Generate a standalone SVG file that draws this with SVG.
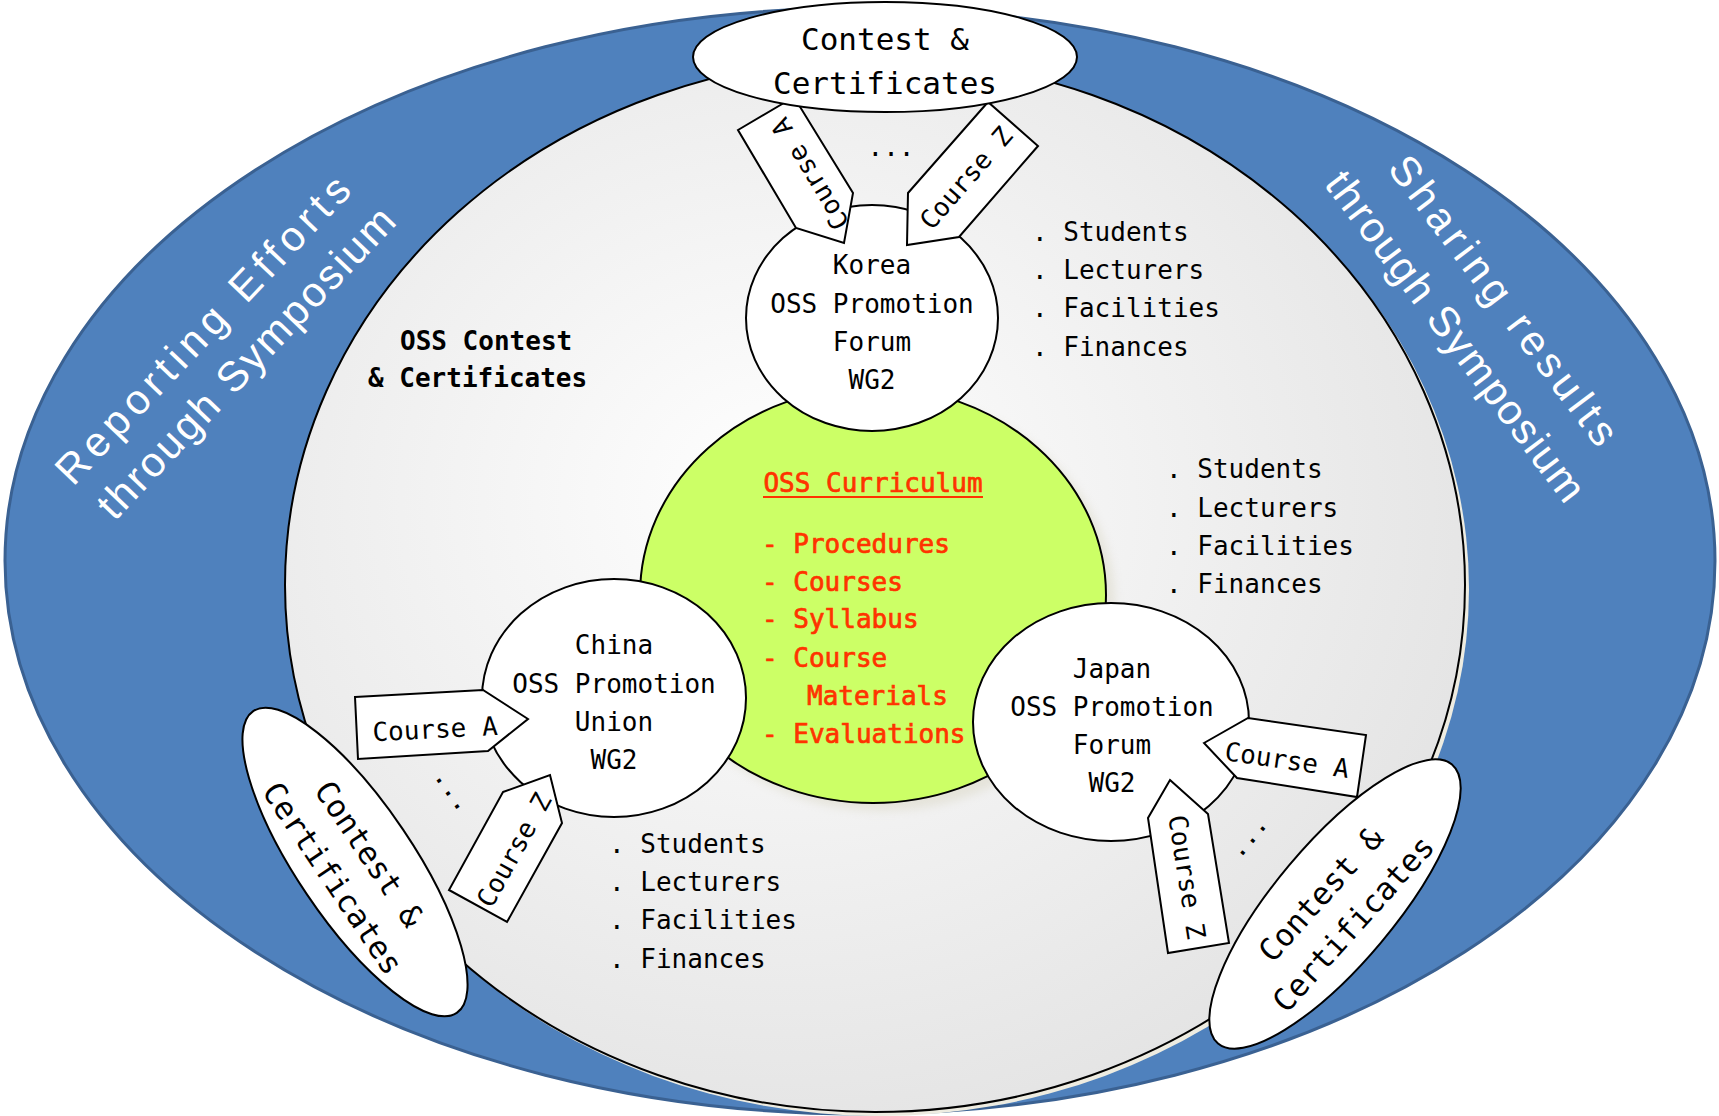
<svg xmlns="http://www.w3.org/2000/svg" width="1719" height="1116" viewBox="0 0 1719 1116">
<defs>
<radialGradient id="gray" cx="42%" cy="42%" r="62%">
<stop offset="0" stop-color="#ffffff"/>
<stop offset="1" stop-color="#e4e4e4"/>
</radialGradient>
<filter id="blur" x="-10%" y="-10%" width="120%" height="120%"><feGaussianBlur stdDeviation="5"/></filter>
</defs>
<style>
.m{font-family:"DejaVu Sans Mono","Liberation Mono",monospace;font-size:26px;fill:#000}
.big{font-size:31px}
.b{font-weight:bold}
.red{fill:#FF3300;stroke:#FF3300;stroke-width:0.7}
.w{font-family:"Liberation Sans","Noto Sans",Arial,sans-serif;font-size:42px;fill:#ffffff}
.node{fill:#ffffff;stroke:#000;stroke-width:2}
.tag{fill:#ffffff;stroke:#000;stroke-width:2;stroke-linejoin:miter}
</style>
<rect width="1719" height="1116" fill="#ffffff"/>
<g id="outer-ring">
<ellipse cx="860" cy="561" rx="855" ry="553" fill="#4F81BD" stroke="#3A6192" stroke-width="3"/>
<g transform="translate(224,346) rotate(-46.5)">
<text class="w" x="-3" y="-27" dy="0.35em" text-anchor="middle" textLength="407" lengthAdjust="spacing">Reporting Efforts</text>
<text class="w" x="3" y="27" dy="0.35em" text-anchor="middle" textLength="412" lengthAdjust="spacing">through Symposium</text>
</g>
<g transform="translate(1480,318) rotate(53)">
<text class="w" x="0" y="-30" dy="0.35em" text-anchor="middle" textLength="351" lengthAdjust="spacing">Sharing results</text>
<text class="w" x="0" y="30" dy="0.35em" text-anchor="middle" textLength="402" lengthAdjust="spacing">through Symposium</text>
</g>
</g>
<g id="inner-area">
<ellipse cx="879" cy="589" rx="590" ry="527" fill="#EEECE1"/>
<ellipse cx="875" cy="585" rx="590" ry="527" fill="url(#gray)" stroke="#000" stroke-width="2"/>
<text class="m b" x="400" y="350">OSS Contest</text>
<text class="m b" x="368" y="387">&amp; Certificates</text>
</g>
<g id="lists">
<text class="m" x="1032" y="241">. Students</text>
<text class="m" x="1032" y="279">. Lecturers</text>
<text class="m" x="1032" y="317">. Facilities</text>
<text class="m" x="1032" y="356">. Finances</text>
<text class="m" x="1166" y="478">. Students</text>
<text class="m" x="1166" y="517">. Lecturers</text>
<text class="m" x="1166" y="555">. Facilities</text>
<text class="m" x="1166" y="593">. Finances</text>
<text class="m" x="609" y="853">. Students</text>
<text class="m" x="609" y="891">. Lecturers</text>
<text class="m" x="609" y="929">. Facilities</text>
<text class="m" x="609" y="968">. Finances</text>
</g>
<g id="curriculum">
<ellipse cx="882" cy="603" rx="233" ry="208" fill="#cfcab0" opacity="0.35" filter="url(#blur)"/>
<ellipse cx="873" cy="595" rx="233" ry="208" fill="#CCFF66" stroke="#000" stroke-width="2"/>
<text class="m red" x="873" y="492" text-anchor="middle">OSS Curriculum</text>
<line x1="763" y1="497" x2="983" y2="497" stroke="#FF3300" stroke-width="2"/>
<text class="m red" x="762" y="553">- Procedures</text>
<text class="m red" x="762" y="591">- Courses</text>
<text class="m red" x="762" y="628">- Syllabus</text>
<text class="m red" x="762" y="667">- Course</text>
<text class="m red" x="807" y="705">Materials</text>
<text class="m red" x="762" y="743">- Evaluations</text>
</g>
<g id="korea">
<ellipse class="node" cx="872" cy="318" rx="126" ry="113"/>
<text class="m" x="872" y="274" text-anchor="middle">Korea</text>
<text class="m" x="872" y="313" text-anchor="middle">OSS Promotion</text>
<text class="m" x="872" y="351" text-anchor="middle">Forum</text>
<text class="m" x="872" y="389" text-anchor="middle">WG2</text>
</g>
<g id="china">
<ellipse class="node" cx="614" cy="698" rx="132" ry="119"/>
<text class="m" x="614" y="654" text-anchor="middle">China</text>
<text class="m" x="614" y="693" text-anchor="middle">OSS Promotion</text>
<text class="m" x="614" y="731" text-anchor="middle">Union</text>
<text class="m" x="614" y="769" text-anchor="middle">WG2</text>
</g>
<g id="japan">
<ellipse class="node" cx="1111" cy="722" rx="138" ry="119"/>
<text class="m" x="1112" y="678" text-anchor="middle">Japan</text>
<text class="m" x="1112" y="716" text-anchor="middle">OSS Promotion</text>
<text class="m" x="1112" y="754" text-anchor="middle">Forum</text>
<text class="m" x="1112" y="792" text-anchor="middle">WG2</text>
</g>
<g id="connectors"></g>
<g id="korea-courses">
<polygon class="tag" points="738,130 794,97 853,193 844,243 796,228"/>
<text class="m" transform="translate(810,174) rotate(-121)" text-anchor="middle" dy="0.35em">Course A</text>
<polygon class="tag" points="908,193 988,102 1038,146 959,237 907,245"/>
<text class="m" transform="translate(966,178) rotate(-49)" text-anchor="middle" dy="0.35em">Course Z</text>
<text class="m" x="891" y="156" text-anchor="middle">...</text>
</g>
<g id="china-courses">
<polygon class="tag" points="355,697 483,690 528,719 488,751 358,759"/>
<text class="m" transform="translate(435,729) rotate(-3)" text-anchor="middle" dy="0.35em">Course A</text>
<polygon class="tag" points="503,792 550,775 562,823 507,922 449,890"/>
<text class="m" transform="translate(514,850) rotate(-61)" text-anchor="middle" dy="0.35em">Course Z</text>
<text class="m" transform="translate(449,793) rotate(55)" text-anchor="middle" dy="3">...</text>
</g>
<g id="japan-courses">
<polygon class="tag" points="1204,743 1248,718 1366,735 1357,797 1237,778"/>
<text class="m" transform="translate(1287,760) rotate(8.3)" text-anchor="middle" dy="0.35em">Course A</text>
<polygon class="tag" points="1170,780 1208,814 1229,943 1168,953 1148,818"/>
<text class="m" transform="translate(1187,877) rotate(81)" text-anchor="middle" dy="0.35em">Course Z</text>
<text class="m" transform="translate(1252,840) rotate(-50)" text-anchor="middle" dy="3">...</text>
</g>
<g id="contest-top">
<ellipse class="node" cx="885" cy="57" rx="192" ry="55"/>
<text class="m big" x="885" y="50" text-anchor="middle">Contest &amp;</text>
<text class="m big" x="885" y="94" text-anchor="middle">Certificates</text>
</g>
<g id="contest-china">
<ellipse class="node" cx="0" cy="0" rx="182" ry="58" transform="translate(355,862) rotate(56)"/>
<g transform="translate(351,866) rotate(56)">
<text class="m big" x="0" y="-22" dy="0.35em" text-anchor="middle">Contest &amp;</text>
<text class="m big" x="0" y="22" dy="0.35em" text-anchor="middle">Certificates</text>
</g>
</g>
<g id="contest-japan">
<ellipse class="node" cx="0" cy="0" rx="182" ry="60" transform="translate(1335,904) rotate(-50)"/>
<g transform="translate(1337,909) rotate(-48)">
<text class="m big" x="0" y="-22" dy="0.35em" text-anchor="middle">Contest &amp;</text>
<text class="m big" x="0" y="22" dy="0.35em" text-anchor="middle">Certificates</text>
</g>
</g>
</svg>
